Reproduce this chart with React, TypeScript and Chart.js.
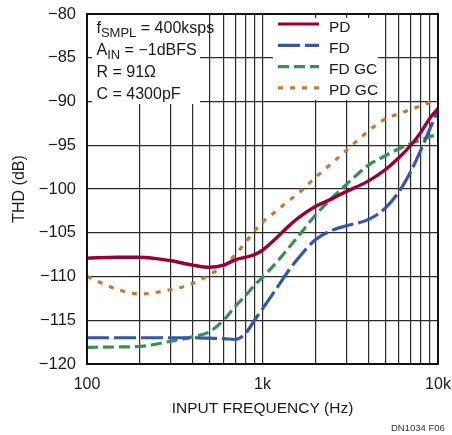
import React, { useEffect, useRef } from "react";
import { Chart, registerables } from "chart.js";

Chart.register(...registerables);

// ---------- data ----------
const FREQ_HZ = [100, 150, 200, 300, 400, 500, 600, 700, 800, 900, 1000, 1200, 1400, 1600, 2000, 2500, 3000, 4000, 5000, 6000, 7000, 8000, 9000, 10000];
const PD_DB = [-107.9, -107.8, -107.8, -108.2, -108.7, -108.95, -108.7, -108.1, -107.8, -107.5, -107.0, -105.6, -104.3, -103.3, -102.0, -101.1, -100.3, -99.1, -97.8, -96.4, -95.0, -93.5, -91.9, -90.8];
const FD_DB = [-117.0, -117.0, -117.0, -117.0, -117.0, -117.05, -117.1, -117.2, -116.5, -115.0, -113.7, -111.4, -109.4, -107.9, -105.8, -104.7, -104.2, -103.5, -102.2, -100.3, -98.0, -95.5, -93.1, -91.0];
const FD_GC_DB = [-118.1, -118.05, -118.0, -117.4, -116.9, -116.3, -115.0, -113.4, -112.2, -111.0, -110.1, -108.4, -106.8, -105.4, -103.0, -101.0, -99.5, -97.3, -96.2, -95.4, -94.8, -94.4, -94.0, -93.8];
const PD_GC_DB = [-110.0, -111.5, -112.0, -111.5, -110.8, -109.8, -108.8, -107.5, -106.1, -104.8, -103.8, -102.5, -101.4, -100.5, -98.7, -97.0, -95.6, -93.4, -92.0, -91.4, -90.9, -90.5, -90.1, -89.8];

const SERIES_LABELS = ["PD", "FD", "FD GC", "PD GC"];
const X_TICKS = [100, 200, 300, 400, 500, 600, 700, 800, 900, 1000, 2000, 3000, 4000, 5000, 6000, 7000, 8000, 9000, 10000];
const X_TICK_LABELS: Record<number, string> = { 100: "100", 1000: "1k", 10000: "10k" };
const Y_MIN = -120;
const Y_MAX = -80;
const Y_STEP = 5;
const X_TITLE = "INPUT FREQUENCY (Hz)";
const Y_TITLE = "THD (dB)";
const NOTE_LINES: [string, string, string][] = [
  ["f", "SMPL", " = 400ksps"],
  ["A", "IN", " = \u22121dBFS"],
  ["R = 91\u03A9", "", ""],
  ["C = 4300pF", "", ""],
];
const FOOTNOTE = "DN1034 F06";

// ---------- styles ----------
const FAMILY = "'Liberation Sans', Arial, sans-serif";
const TEXT = "#1a1a1a";
const COLORS = ["#990033", "#3656a8", "#3a8f52", "#c47a35"];
const DASHES: number[][] = [[], [22, 5], [11, 5], [5, 7]];

const overlayPlugin = {
  id: "overlay",
  beforeDatasetsDraw(chart: any) {
    const { ctx, chartArea: a } = chart;
    ctx.save();
    ctx.fillStyle = "#ffffff";
    // annotation box
    ctx.fillRect(a.left + 5, a.top + 1, 108, 89);
    // legend box
    ctx.fillRect(a.left + 186, a.top + 4, 105, 82);

    // annotation text
    ctx.fillStyle = TEXT;
    ctx.textBaseline = "alphabetic";
    ctx.textAlign = "left";
    const x0 = a.left + 9.5;
    NOTE_LINES.forEach((ln, i) => {
      const y = a.top + 19 + i * 22;
      let x = x0;
      ctx.font = `16px ${FAMILY}`;
      ctx.fillText(ln[0], x, y);
      x += ctx.measureText(ln[0]).width;
      if (ln[1]) {
        ctx.font = `13px ${FAMILY}`;
        ctx.fillText(ln[1], x, y + 4);
        x += ctx.measureText(ln[1]).width;
      }
      if (ln[2]) {
        ctx.font = `16px ${FAMILY}`;
        ctx.fillText(ln[2], x, y);
      }
    });

    // legend
    const ds = chart.data.datasets;
    ds.forEach((d: any, i: number) => {
      const ly = a.top + 10 + i * 21.3;
      ctx.beginPath();
      ctx.strokeStyle = d.borderColor;
      ctx.lineWidth = 3.2;
      ctx.setLineDash(d.borderDash || []);
      ctx.moveTo(a.left + 191, ly);
      ctx.lineTo(a.left + 232, ly);
      ctx.stroke();
      ctx.setLineDash([]);
      ctx.font = `15.5px ${FAMILY}`;
      ctx.fillStyle = TEXT;
      ctx.fillText(d.label, a.left + 242, ly + 7.5);
    });
    ctx.restore();
  },
  afterDatasetsDraw(chart: any) {
    const { ctx, chartArea: a } = chart;
    ctx.save();
    ctx.strokeStyle = "#111";
    ctx.lineWidth = 2;
    ctx.strokeRect(a.left, a.top, a.right - a.left, a.bottom - a.top);
    ctx.restore();
  },
  afterDraw(chart: any) {
    const { ctx } = chart;
    ctx.save();
    ctx.fillStyle = "#333";
    ctx.font = `9.5px ${FAMILY}`;
    ctx.textBaseline = "alphabetic";
    ctx.textAlign = "left";
    ctx.fillText(FOOTNOTE, 391, 431);
    ctx.restore();
  },
};

export default function App() {
  const ref = useRef<HTMLCanvasElement | null>(null);

  useEffect(() => {
    if (!ref.current) return;
    const series = [PD_DB, FD_DB, FD_GC_DB, PD_GC_DB];
    const chart = new Chart(ref.current, {
      type: "line",
      data: {
        datasets: series.map((vals, i) => ({
          label: SERIES_LABELS[i],
          data: FREQ_HZ.map((f, j) => ({ x: f, y: vals[j] })),
          borderColor: COLORS[i],
          backgroundColor: COLORS[i],
          borderWidth: i === 0 ? 3.4 : 3.2,
          borderDash: DASHES[i],
          pointRadius: 0,
          cubicInterpolationMode: "monotone" as const,
          fill: false,
        })),
      },
      options: {
        animation: false,
        responsive: false,
        maintainAspectRatio: false,
        layout: { padding: { left: 0, top: 14, right: 14, bottom: 0 } },
        plugins: { legend: { display: false }, tooltip: { enabled: false } },
        scales: {
          x: {
            type: "logarithmic",
            min: 100,
            max: 10000,
            afterBuildTicks: (scale: any) => {
              scale.ticks = X_TICKS.map((v) => ({ value: v }));
            },
            afterFit: (scale: any) => {
              scale.height = 71;
              scale.paddingLeft = 0;
              scale.paddingRight = 0;
            },
            grid: { color: "#2b2b2b", lineWidth: 1.2, drawTicks: false },
            border: { display: false },
            ticks: {
              autoSkip: false,
              maxRotation: 0,
              padding: 11,
              color: TEXT,
              font: { family: FAMILY, size: 16 },
              callback: (v: any) => X_TICK_LABELS[Number(v)] ?? "",
            },
            title: {
              display: true,
              text: X_TITLE,
              color: TEXT,
              font: { family: FAMILY, size: 15.5 },
              padding: { top: 0, bottom: 17 },
            },
          },
          y: {
            type: "linear",
            min: Y_MIN,
            max: Y_MAX,
            afterFit: (scale: any) => {
              scale.width = 87;
              scale.paddingTop = 0;
              scale.paddingBottom = 0;
            },
            grid: { color: "#2b2b2b", lineWidth: 1.2, drawTicks: false },
            border: { display: false },
            ticks: {
              stepSize: Y_STEP,
              padding: 11,
              color: TEXT,
              font: { family: FAMILY, size: 16.5 },
              callback: (v: any) => (Number(v) < 0 ? "\u2212" + Math.abs(Number(v)) : String(v)),
            },
            title: {
              display: true,
              text: Y_TITLE,
              color: TEXT,
              font: { family: FAMILY, size: 16 },
              padding: { top: 10, bottom: 0 },
            },
          },
        },
      },
      plugins: [overlayPlugin],
    });
    return () => chart.destroy();
  }, []);

  return (
    <div style={{ position: "fixed", left: 0, top: 0, width: 452, height: 435, background: "#fff" }}>
      <canvas ref={ref} width={452} height={435} style={{ width: 452, height: 435, display: "block" }} />
    </div>
  );
}
